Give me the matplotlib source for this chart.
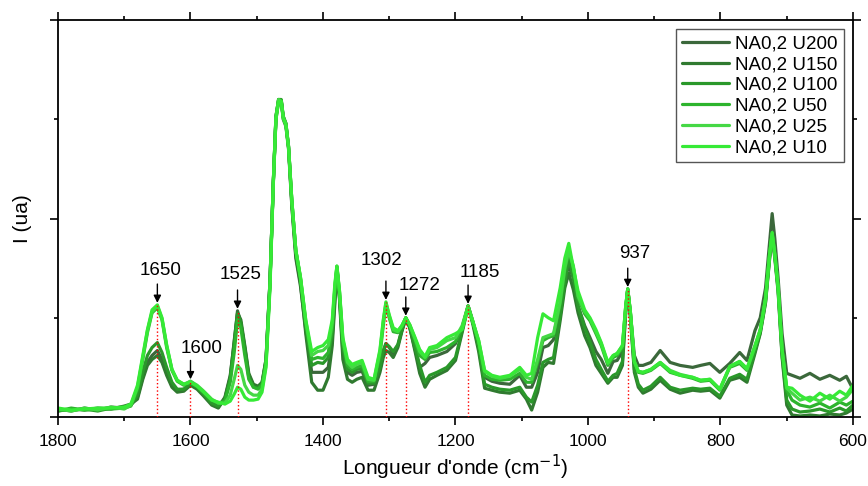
import matplotlib
matplotlib.use("Agg")
import matplotlib.pyplot as plt
from matplotlib.ticker import MultipleLocator, NullFormatter

plt.rcParams["font.family"] = ["Liberation Sans", "DejaVu Sans"]

# Raman shift grid (cm-1) and intensities (a.u.)
wavenumber = [1800, 1780, 1760, 1740, 1720, 1700, 1690, 1680, 1672, 1665,
              1658, 1650, 1643, 1636, 1628, 1620, 1610, 1600, 1590, 1580,
              1568, 1558, 1548, 1540, 1534, 1529, 1524, 1518, 1512, 1505,
              1498, 1492, 1486, 1480, 1475, 1471, 1467, 1463, 1460, 1456,
              1452, 1447, 1441, 1434, 1426, 1417, 1408, 1400, 1392, 1386,
              1382, 1379, 1375, 1370, 1363, 1356, 1349, 1341, 1332, 1323,
              1314, 1309, 1305, 1300, 1294, 1287, 1281, 1275, 1269, 1261,
              1254, 1246, 1239, 1228, 1213, 1200, 1190, 1181, 1174, 1165,
              1156, 1145, 1133, 1118, 1103, 1093, 1085, 1076, 1068, 1060,
              1052, 1042, 1035, 1029, 1022, 1015, 1005, 997, 988, 980,
              970, 962, 956, 948, 943, 940, 936, 930, 924, 917,
              905, 891, 876, 861, 842, 830, 816, 801, 786, 771,
              760, 748, 740, 732, 726, 722, 718, 713, 707, 700,
              692, 680, 665, 650, 635, 620, 610, 600]

u200 = [8, 6, 9, 7, 10, 9, 12, 20, 40, 55,
        62, 67, 58, 45, 32, 27, 28, 33, 29, 22,
        14, 10, 20, 42, 75, 107, 95, 70, 42, 32,
        30, 34, 58, 137, 235, 300, 318, 318, 300, 293,
        270, 212, 160, 132, 88, 45, 45, 45, 50, 80,
        120, 150, 120, 65, 45, 42, 45, 46, 32, 33,
        48, 65, 74, 70, 64, 72, 87, 100, 90, 68,
        50, 54, 60, 62, 66, 74, 90, 112, 96, 72,
        40, 36, 34, 33, 42, 30, 30, 45, 70, 72,
        78, 108, 140, 152, 140, 112, 92, 80, 66, 58,
        44, 56, 57, 66, 110, 129, 105, 62, 52, 52,
        55, 67, 55, 52, 50, 52, 54, 45, 54, 65,
        57, 87, 100, 130, 175, 205, 180, 140, 84, 44,
        42, 39, 44, 38, 42, 37, 41, 28]
u150 = [6, 8, 7, 9, 8, 11, 13, 18, 38, 52,
        58, 62, 55, 42, 30, 25, 26, 32, 28, 21,
        12, 9, 19, 40, 77, 105, 98, 72, 44, 33,
        31, 35, 58, 137, 236, 302, 320, 319, 302, 295,
        272, 214, 163, 135, 84, 35, 27, 27, 40, 72,
        115, 150, 118, 58, 38, 35, 38, 40, 27, 27,
        45, 60, 67, 65, 60, 70, 86, 99, 90, 66,
        44, 30, 38, 42, 47, 57, 85, 111, 94, 66,
        29, 27, 25, 24, 27, 18, 7, 25, 50, 55,
        54, 97, 130, 145, 128, 105, 82, 70, 52, 44,
        34, 40, 40, 52, 105, 128, 100, 45, 30, 24,
        28, 37, 28, 24, 27, 26, 27, 19, 37, 40,
        35, 64, 84, 115, 158, 183, 160, 126, 60, 12,
        2, 1, 2, 1, 3, 2, 4, 8]
u100 = [7, 7, 8, 6, 9, 10, 12, 22, 45, 62,
        70, 75, 65, 50, 35, 28, 28, 34, 30, 23,
        14, 11, 18, 38, 72, 104, 95, 68, 40, 30,
        29, 33, 56, 136, 237, 303, 320, 320, 303, 296,
        273, 217, 167, 139, 92, 52, 55, 54, 60, 85,
        125, 151, 122, 70, 48, 45, 48, 49, 34, 34,
        50, 67, 74, 71, 66, 73, 88, 100, 91, 70,
        52, 35, 42, 45, 50, 60, 87, 112, 96, 70,
        33, 30, 28, 27, 30, 20, 15, 32, 55, 58,
        60, 102, 135, 160, 140, 112, 90, 76, 58, 48,
        36, 42, 44, 56, 108, 129, 103, 48, 33, 27,
        31, 40, 30, 27, 29, 28, 29, 21, 39, 43,
        38, 66, 85, 116, 160, 184, 162, 128, 62, 17,
        8, 5, 6, 8, 5, 9, 6, 12]
u50 = [6, 9, 7, 8, 8, 9, 11, 28, 58, 85,
       105, 110, 98, 70, 47, 36, 32, 36, 31, 25,
       17, 14, 16, 35, 65, 98, 90, 62, 38, 30,
       28, 32, 55, 135, 237, 303, 320, 319, 303, 296,
       273, 218, 168, 140, 95, 58, 60, 59, 65, 90,
       130, 152, 125, 75, 52, 48, 50, 52, 36, 36,
       62, 92, 113, 100, 86, 85, 91, 100, 92, 77,
       62, 58, 65, 66, 70, 76, 90, 112, 97, 75,
       42, 38, 37, 38, 44, 35, 35, 55, 77, 80,
       82, 114, 148, 167, 150, 120, 104, 97, 84, 72,
       52, 60, 62, 70, 112, 129, 106, 55, 45, 44,
       47, 54, 45, 42, 39, 36, 37, 27, 50, 54,
       47, 70, 87, 118, 162, 185, 163, 130, 67, 27,
       17, 12, 10, 14, 9, 15, 12, 16]
u25 = [8, 6, 9, 7, 10, 8, 12, 30, 60, 87,
       106, 112, 99, 72, 48, 37, 33, 36, 32, 26,
       18, 14, 14, 22, 38, 52, 48, 32, 25, 22,
       22, 28, 52, 133, 236, 302, 320, 318, 302, 295,
       272, 218, 168, 141, 97, 62, 66, 67, 72, 95,
       132, 152, 126, 78, 55, 50, 53, 55, 38, 37,
       66, 96, 115, 102, 88, 86, 92, 100, 93, 79,
       66, 60, 68, 70, 77, 80, 92, 112, 97, 77,
       46, 41, 39, 41, 48, 40, 38, 58, 80, 82,
       84, 116, 150, 168, 152, 122, 106, 99, 86, 74,
       54, 62, 64, 72, 112, 129, 106, 56, 46, 45,
       48, 55, 47, 43, 40, 37, 38, 28, 51, 56,
       48, 71, 88, 119, 163, 185, 164, 131, 68, 29,
       24, 17, 20, 16, 22, 16, 20, 28]
u10 = [9, 7, 8, 9, 9, 10, 13, 32, 62, 88,
       108, 113, 100, 73, 48, 37, 33, 35, 31, 25,
       17, 15, 13, 16, 23, 30, 28, 20, 17, 17,
       18, 25, 50, 130, 234, 300, 318, 318, 301, 294,
       272, 218, 168, 141, 98, 66, 70, 72, 78, 98,
       135, 152, 127, 80, 58, 53, 55, 57, 40, 38,
       68, 98, 116, 103, 90, 87, 92, 100, 93, 80,
       68, 61, 70, 72, 80, 84, 88, 110, 96, 77,
       47, 42, 40, 42, 50, 42, 44, 80, 104, 100,
       97, 130, 160, 175, 150, 127, 108, 100, 88, 75,
       55, 62, 64, 72, 112, 129, 106, 56, 46, 45,
       48, 55, 46, 42, 40, 37, 38, 28, 51, 56,
       49, 72, 88, 120, 163, 186, 164, 131, 68, 30,
       29, 22, 16, 24, 18, 26, 22, 32]

series_names = ["NA0,2 U200", "NA0,2 U150", "NA0,2 U100",
                "NA0,2 U50", "NA0,2 U25", "NA0,2 U10"]
series_values = [u200, u150, u100, u50, u25, u10]
colors = ["#3b683b", "#307a30", "#2a982a", "#2db42d", "#45d845", "#36ea36"]

# annotated bands
peak_wn = [1650, 1600, 1529, 1305, 1275, 1181, 940]
peak_labels = ["1650", "1600", "1525", "1302", "1272", "1185", "937"]
label_wn = [1645, 1584, 1525, 1312, 1254, 1164, 929]
label_h = [139, 60, 135, 149, 124, 137, 156]

for vals in series_values:
    assert len(vals) == len(wavenumber)

fig = plt.figure(figsize=(8.68, 4.86), dpi=100)
ax = fig.add_axes([0.0668, 0.142, 0.9159, 0.8166])

for name, vals, c in zip(series_names, series_values, colors):
    ax.plot(wavenumber, vals, color=c, lw=2.3, label=name,
            solid_joinstyle="round", solid_capstyle="round")

for wn, lab, lx, ly in zip(peak_wn, peak_labels, label_wn, label_h):
    i = wavenumber.index(wn)
    top = max(v[i] for v in series_values)
    ax.vlines(wn, 0, top, colors="red", linestyles=":", lw=1.0, zorder=5)
    ax.annotate("", xy=(wn, top + 2), xytext=(wn, top + 21),
                arrowprops=dict(arrowstyle="-|>", color="black", lw=1.0,
                                mutation_scale=11, shrinkA=0, shrinkB=0),
                zorder=6)
    ax.text(lx, ly, lab, ha="center", va="bottom", fontsize=13.5)

ax.set_xlim(1800, 600)
ax.set_ylim(0, 400)
ax.xaxis.set_major_locator(MultipleLocator(200))
ax.xaxis.set_minor_locator(MultipleLocator(100))
ax.yaxis.set_major_locator(MultipleLocator(200))
ax.yaxis.set_minor_locator(MultipleLocator(100))
ax.yaxis.set_major_formatter(NullFormatter())
ax.tick_params(which="both", direction="out", top=True, right=True,
               width=1.2, labelsize=12.5, pad=6)
ax.tick_params(which="major", length=6)
ax.tick_params(which="minor", length=3)
for sp in ax.spines.values():
    sp.set_linewidth(1.3)

ax.set_xlabel("Longueur d'onde (cm$^{-1}$)", fontsize=15, labelpad=3)
ax.set_ylabel("I (ua)", fontsize=15, labelpad=7)

leg = ax.legend(loc="upper right", fontsize=13.5, frameon=True, fancybox=False,
                edgecolor="#555555", framealpha=1, handlelength=2.5,
                handletextpad=0.35, labelspacing=0.2, borderpad=0.3,
                borderaxespad=0.5)
leg.get_frame().set_linewidth(1.0)

fig.savefig("out.png", dpi=100)
